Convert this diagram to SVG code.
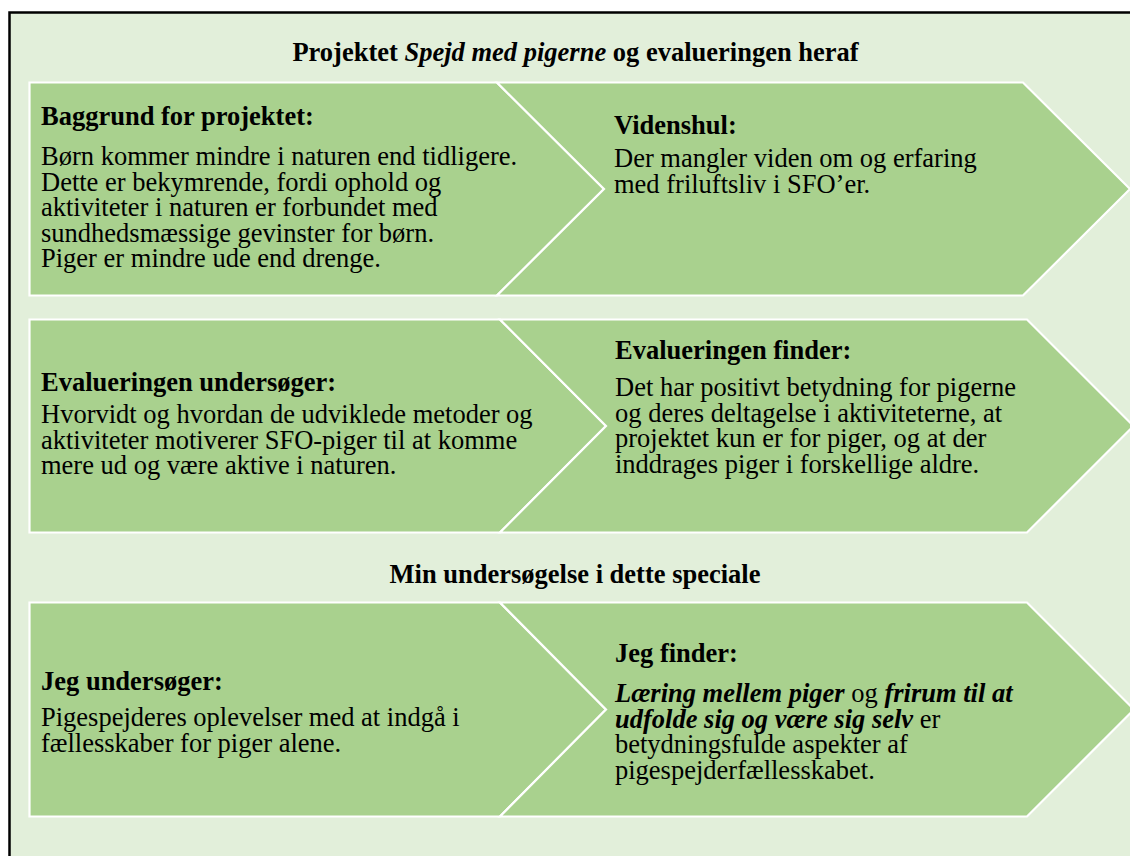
<svg xmlns="http://www.w3.org/2000/svg" width="1130" height="856" viewBox="0 0 1130 856">
<style>
text{font-family:"Liberation Serif","Times New Roman",serif;font-size:26.5px;fill:#000}
.b{font-weight:bold}
.bi{font-weight:bold;font-style:italic}
.shape{fill:#A9D18E;stroke:#FFFFFF;stroke-width:2.2;stroke-linejoin:miter}
</style>
<rect width="1130" height="856" fill="#FFFFFF"/>
<rect id="frame" x="9.5" y="12.5" width="1140" height="860" fill="#E2EFDA" stroke="#000000" stroke-width="2.5"/>
<text id="title1" class="b" x="575.5" y="61" text-anchor="middle">Projektet <tspan class="bi">Spejd med pigerne</tspan> og evalueringen heraf</text>
<text id="title2" class="b" x="575" y="583" text-anchor="middle">Min undersøgelse i dette speciale</text>
<g id="connectors"></g>
<g id="baggrund">
<polygon class="shape" points="29.5,82.5 497,82.5 604,189 497,295.5 29.5,295.5"/>
<text x="41" y="125" class="b">Baggrund for projektet:</text>
<text x="41" y="165">Børn kommer mindre i naturen end tidligere.</text>
<text x="41" y="190.5">Dette er bekymrende, fordi ophold og</text>
<text x="41" y="216">aktiviteter i naturen er forbundet med</text>
<text x="41" y="241.5">sundhedsmæssige gevinster for børn.</text>
<text x="41" y="267">Piger er mindre ude end drenge.</text>
</g>
<g id="videnshul">
<polygon class="shape" points="497,82.5 1023,82.5 1130,189 1023,295.5 497,295.5 604,189"/>
<text x="614" y="134" class="b">Videnshul:</text>
<text x="614" y="167">Der mangler viden om og erfaring</text>
<text x="614" y="193">med friluftsliv i SFO’er.</text>
</g>
<g id="eval-undersoeger">
<polygon class="shape" points="29.5,319.5 500,319.5 606,426 500,532.5 29.5,532.5"/>
<text x="41" y="391" class="b">Evalueringen undersøger:</text>
<text x="41" y="423">Hvorvidt og hvordan de udviklede metoder og</text>
<text x="41" y="448.5">aktiviteter motiverer SFO-piger til at komme</text>
<text x="41" y="474">mere ud og være aktive i naturen.</text>
</g>
<g id="eval-finder">
<polygon class="shape" points="500,319.5 1027,319.5 1133.5,426 1027,532.5 500,532.5 606,426"/>
<text x="615" y="359" class="b">Evalueringen finder:</text>
<text x="615" y="396">Det har positivt betydning for pigerne</text>
<text x="615" y="421.5">og deres deltagelse i aktiviteterne, at</text>
<text x="615" y="447">projektet kun er for piger, og at der</text>
<text x="615" y="472.5">inddrages piger i forskellige aldre.</text>
</g>
<g id="jeg-undersoeger">
<polygon class="shape" points="29.5,602.5 500,602.5 606,709.5 500,816.5 29.5,816.5"/>
<text x="41" y="690" class="b">Jeg undersøger:</text>
<text x="41" y="726">Pigespejderes oplevelser med at indgå i</text>
<text x="41" y="752">fællesskaber for piger alene.</text>
</g>
<g id="jeg-finder">
<polygon class="shape" points="500,602.5 1027,602.5 1134,709.5 1027,816.5 500,816.5 606,709.5"/>
<text x="615" y="662" class="b">Jeg finder:</text>
<text x="615" y="702"><tspan class="bi">Læring mellem piger</tspan> og <tspan class="bi">frirum til at</tspan></text>
<text x="615" y="727.5"><tspan class="bi">udfolde sig og være sig selv</tspan> er</text>
<text x="615" y="753">betydningsfulde aspekter af</text>
<text x="615" y="778.5">pigespejderfællesskabet.</text>
</g>
</svg>
